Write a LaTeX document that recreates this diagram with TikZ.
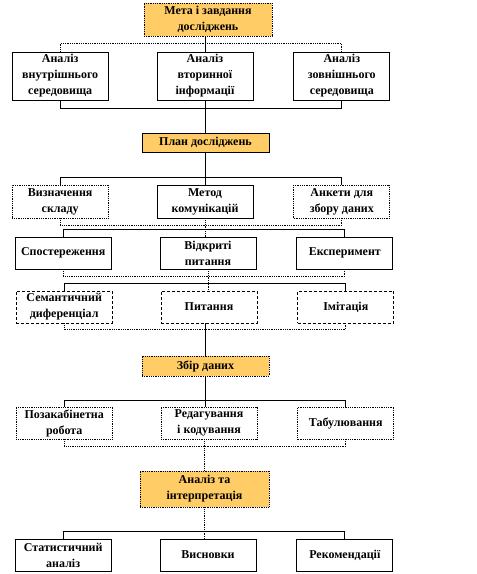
\documentclass[tikz,border=0pt]{standalone}
\usepackage{fontspec}
\setmainfont{Liberation Serif}
\usetikzlibrary{positioning}
\definecolor{stageorange}{RGB}{255,204,102}
\tikzstyle{stage} = [rectangle, draw=black, fill=stageorange, minimum width=128pt,
                     align=center, inner sep=1pt]
\tikzstyle{item}  = [rectangle, draw=black, fill=white, minimum width=96pt,
                     minimum height=32pt, align=center, inner sep=1pt]

\begin{document}
\begin{tikzpicture}[x=1pt, y=1pt, line width=0.8pt,
    every node/.style={font=\fontsize{12}{16}\selectfont\bfseries}]
  \useasboundingbox (0,0) rectangle (477,-574);

  \node (meta)  [stage, densely dotted, minimum height=33pt] at (208,-19.5) {Мета і завдання\\досліджень};
  \node (vtor)  [item, minimum height=48pt] at (205,-76) {Аналіз\\вторинної\\інформації};
  \node (vnutr) [item, minimum height=48pt, left=48pt of vtor]  {Аналіз\\внутрішнього\\середовища};
  \node (zovn)  [item, minimum height=48pt, right=40pt of vtor] {Аналіз\\зовнішнього\\середовища};

  \node (plan)   [stage, minimum width=127pt, minimum height=19pt] at (205.5,-142.5) {План досліджень};
  \node (metod)  [item, minimum height=33pt] at (205,-201.5) {Метод\\комунікацій};
  \node (sklad)  [item, densely dotted, minimum height=33pt, left=48pt of metod]  {Визначення\\складу};
  \node (anketa) [item, densely dotted, minimum height=33pt, right=40pt of metod] {Анкети для\\збору даних};

  \node (vidkr)   [item] at (208,-253) {Відкриті\\питання};
  \node (sposter) [item, left=48pt of vidkr]  {Спостереження};
  \node (eksper)  [item, right=40pt of vidkr] {Експеримент};

  \node (pytan)  [item, densely dashed] at (209,-307) {Питання};
  \node (semant) [item, densely dashed, left=48pt of pytan]  {Семантичний\\диференціал};
  \node (imit)   [item, densely dashed, right=40pt of pytan] {Імітація};

  \node (zbir)  [stage, densely dotted, minimum width=127pt, minimum height=20pt] at (205.5,-366) {Збір даних};
  \node (redag) [item, densely dotted] at (209,-423) {Редагування\\і кодування};
  \node (pozak) [item, densely dotted, left=48pt of redag]  {Позакабінетна\\робота};
  \node (tabul) [item, densely dotted, right=40pt of redag] {Табулювання};

  \node (analiz) [stage, densely dotted, minimum width=129pt, minimum height=36pt] at (204.5,-489) {Аналіз та\\інтерпретація};
  \node (vysn)   [item] at (208,-555) {Висновки};
  \node (stat)   [item, left=48pt of vysn]  {Статистичний\\аналіз};
  \node (rekom)  [item, right=40pt of vysn] {Рекомендації};

  % brackets and trunk
  \draw[densely dotted] (vnutr.north) -- ++(0,8) -| (zovn.north);
  \draw (vtor.north) -- (vtor.north |- meta.south);
  \draw (vnutr.south) -- ++(0,-8) -| (zovn.south);
  \draw (vtor.south) -- (vtor.south |- plan.north);

  \draw (sklad.north) -- ++(0,7) -| (anketa.north);
  \draw (plan.south) -- (plan.south |- metod.north);
  \draw[densely dotted] (sklad.south) -- ++(0,-7) -| (anketa.south);
  \draw[densely dotted] (metod.south) -- (metod.south |- vidkr.north);

  \draw (sposter.north) -- ++(0,7) -| (eksper.north);
  \draw[densely dotted] (sposter.south) -- ++(0,-7) -| (eksper.south);
  \draw[densely dotted] (vidkr.south) -- (vidkr.south |- pytan.north);

  \draw (semant.north) -- ++(0,7) -| (imit.north);
  \draw[densely dotted] (semant.south) -- ++(0,-6) -| (imit.south);
  \draw (zbir.north) -- (zbir.north |- pytan.south);

  \draw (pozak.north) -- ++(0,6) -| (tabul.north);
  \draw (zbir.south) -- (zbir.south |- redag.north);
  \draw[densely dotted] (pozak.south) -- ++(0,-7) -| (tabul.south);
  \draw[densely dotted] (analiz.north) -- (analiz.north |- redag.south);

  \draw (stat.north) -- ++(0,7) -| (rekom.north);
  \draw[densely dotted] (analiz.south) -- (analiz.south |- vysn.north);
\end{tikzpicture}
\end{document}
